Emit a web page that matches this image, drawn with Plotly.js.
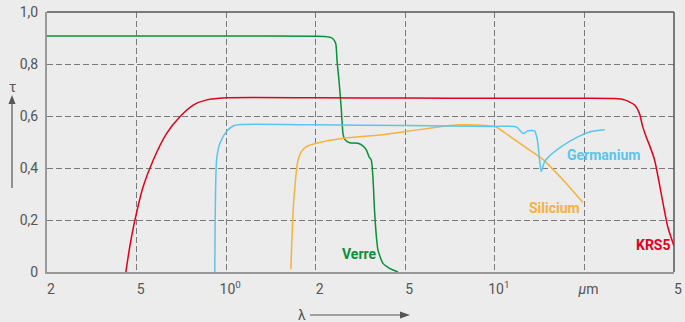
<!DOCTYPE html>
<html>
<head>
<meta charset="utf-8">
<script src="https://cdn.plot.ly/plotly-3.0.1.min.js"></script>
<style>
html,body{margin:0;padding:0;background:#ebeceb;}
#chart{width:685px;height:322px;}
</style>
</head>
<body>
<div id="chart"></div>
<script>
// Axis scale: 1-2-5 steps drawn equally spaced (wavelength in µm)
const xTickValues = [0.2, 0.5, 1, 2, 5, 10, 20, 50];
const xTickLabels = ['2', '5', '10<sup>0</sup>', '2', '5', '10<sup>1</sup>', '<i>µ</i>m', '5'];
const yTickValues = [0, 0.2, 0.4, 0.6, 0.8, 1.0];
const yTickLabels = ['0', '0,2', '0,4', '0,6', '0,8', '1,0'];

// Verre (glass)
const verreX = [0.2, 1.0, 2.0, 2.2, 2.363, 2.453, 2.486, 2.537, 2.60, 2.643, 2.69, 2.83, 3.08, 3.24, 3.36, 3.45, 3.53, 3.59, 3.65, 3.72, 3.78, 3.98, 4.26, 4.64];
const verreY = [0.908, 0.908, 0.907, 0.906, 0.900, 0.880, 0.815, 0.738, 0.623, 0.533, 0.510, 0.497, 0.495, 0.485, 0.469, 0.443, 0.431, 0.367, 0.238, 0.136, 0.085, 0.033, 0.014, 0.0];

// KRS5
const krs5X = [0.448, 0.467, 0.4917, 0.526, 0.569, 0.631, 0.699, 0.775, 0.86, 1.0, 2, 5, 10, 20, 27.2, 30.15, 33.4, 35.1, 36.3, 37.6, 38.9, 41.0, 46.9, 50];
const krs5Y = [0.0, 0.10, 0.20, 0.328, 0.431, 0.533, 0.597, 0.642, 0.662, 0.670, 0.670, 0.669, 0.668, 0.668, 0.667, 0.662, 0.642, 0.610, 0.559, 0.520, 0.488, 0.431, 0.174, 0.10];

// Germanium
const germX = [0.916, 0.929, 0.953, 1.003, 1.056, 1.112, 2, 5, 10, 11.81, 12.43, 12.92, 13.6, 13.89, 14.14, 14.32, 14.69, 15.07, 16.73, 19.01, 21.44, 24.58];
const germY = [0.0, 0.431, 0.495, 0.540, 0.5615, 0.567, 0.566, 0.563, 0.560, 0.558, 0.533, 0.543, 0.543, 0.508, 0.431, 0.386, 0.424, 0.440, 0.482, 0.520, 0.540, 0.547];

// Silicium
const siliX = [1.65, 1.68, 1.724, 1.745, 1.79, 1.86, 2.016, 2.645, 3.85, 5.0, 6.04, 7.62, 9.36, 10.12, 11.06, 12.59, 14.51, 17.16, 19.77];
const siliY = [0.01, 0.238, 0.392, 0.431, 0.463, 0.482, 0.495, 0.514, 0.527, 0.540, 0.553, 0.566, 0.563, 0.557, 0.527, 0.482, 0.433, 0.347, 0.267];

// piecewise-log scale: each 1-2-5 step takes one unit of axis
function scaleX(v) {
  const t = xTickValues;
  for (let i = 0; i < t.length - 1; i++) {
    if (v <= t[i + 1] || i === t.length - 2) {
      return i + Math.log(v / t[i]) / Math.log(t[i + 1] / t[i]);
    }
  }
}
const mapX = arr => arr.map(scaleX);

const FONT = 'Roboto, "Liberation Sans", Arial, sans-serif';
const C_GREEN = '#0b8f3a', C_RED = '#e3001b', C_BLUE = '#5bc5ec', C_ORANGE = '#f7b23b';
const C_TEXT = '#555';

const lineTrace = (x, y, color, name) => ({
  x: mapX(x), y: y, type: 'scatter', mode: 'lines', name: name,
  line: {color: color, width: 1.5, shape: 'spline', smoothing: 0.6},
  hoverinfo: 'skip'
});

const data = [
  lineTrace(verreX, verreY, C_GREEN, 'Verre'),
  lineTrace(siliX, siliY, C_ORANGE, 'Silicium'),
  lineTrace(germX, germY, C_BLUE, 'Germanium'),
  lineTrace(krs5X, krs5Y, C_RED, 'KRS5')
];

const label = (text, x, y, c) => ({
  text: text, xref: 'paper', yref: 'paper', x: x, y: y,
  xanchor: 'center', yanchor: 'middle', showarrow: false,
  font: {family: FONT, size: 14, color: c, weight: 'bold'}
});

const layout = {
  width: 685, height: 322,
  margin: {l: 47, r: 11, t: 12, b: 50},
  paper_bgcolor: '#ebeceb', plot_bgcolor: '#ebeceb',
  showlegend: false,
  font: {family: FONT, size: 14, color: C_TEXT},
  xaxis: {
    type: 'linear', range: [0, 7],
    tickmode: 'array', tickvals: mapX(xTickValues), ticktext: xTickLabels,
    showgrid: true, gridcolor: '#7a7a7a', gridwidth: 1, griddash: '6px,3px',
    showline: true, linecolor: '#999', linewidth: 2,
    zeroline: false, ticks: '', ticklabelshift: 4, ticklabelstandoff: 3,
    tickfont: {family: FONT, size: 14, color: C_TEXT}
  },
  yaxis: {
    range: [0, 1.0],
    tickmode: 'array', tickvals: yTickValues, ticktext: yTickLabels,
    showgrid: true, gridcolor: '#7a7a7a', gridwidth: 1, griddash: '6px,3px',
    showline: true, linecolor: '#999', linewidth: 2,
    zeroline: false, ticks: '', ticklabelstandoff: 4,
    tickfont: {family: FONT, size: 14, color: C_TEXT}
  },
  shapes: [
    // frame top and right
    {type: 'line', xref: 'paper', yref: 'paper', x0: 0, x1: 1, y0: 1, y1: 1, line: {color: '#555', width: 1.5}},
    {type: 'line', xref: 'paper', yref: 'paper', x0: 1, x1: 1, y0: 0, y1: 1, line: {color: '#555', width: 1.5}},
    // tau arrow
    {type: 'line', xref: 'paper', yref: 'paper', x0: -0.05582, x1: -0.05582, y0: 0.3231, y1: 0.6538, line: {color: '#555', width: 1.2}},
    {type: 'path', xref: 'paper', yref: 'paper', path: 'M -0.05582 0.6808 L -0.0614 0.6462 L -0.05024 0.6462 Z', fillcolor: '#555', line: {width: 0}},
    // lambda arrow
    {type: 'line', xref: 'paper', yref: 'paper', x0: 0.4195, x1: 0.5662, y0: -0.1654, y1: -0.1654, line: {color: '#555', width: 1.2}},
    {type: 'path', xref: 'paper', yref: 'paper', path: 'M 0.5789 -0.1654 L 0.5630 -0.1519 L 0.5630 -0.1788 Z', fillcolor: '#555', line: {width: 0}}
  ],
  annotations: [
    label('Verre', 0.4992, 0.069, C_GREEN),
    label('Germanium', 0.8868, 0.45, C_BLUE),
    label('Silicium', 0.810, 0.246, C_ORANGE),
    label('KRS5', 0.968, 0.104, C_RED),
    {text: 'τ', xref: 'paper', yref: 'paper', x: -0.05582, y: 0.7115, xanchor: 'center', yanchor: 'middle', showarrow: false, font: {family: FONT, size: 14, color: C_TEXT}},
    {text: 'λ', xref: 'paper', yref: 'paper', x: 0.406, y: -0.1654, xanchor: 'center', yanchor: 'middle', showarrow: false, font: {family: FONT, size: 14, color: C_TEXT}}
  ]
};

Plotly.newPlot('chart', data, layout, {staticPlot: true, displayModeBar: false});
</script>
</body>
</html>
